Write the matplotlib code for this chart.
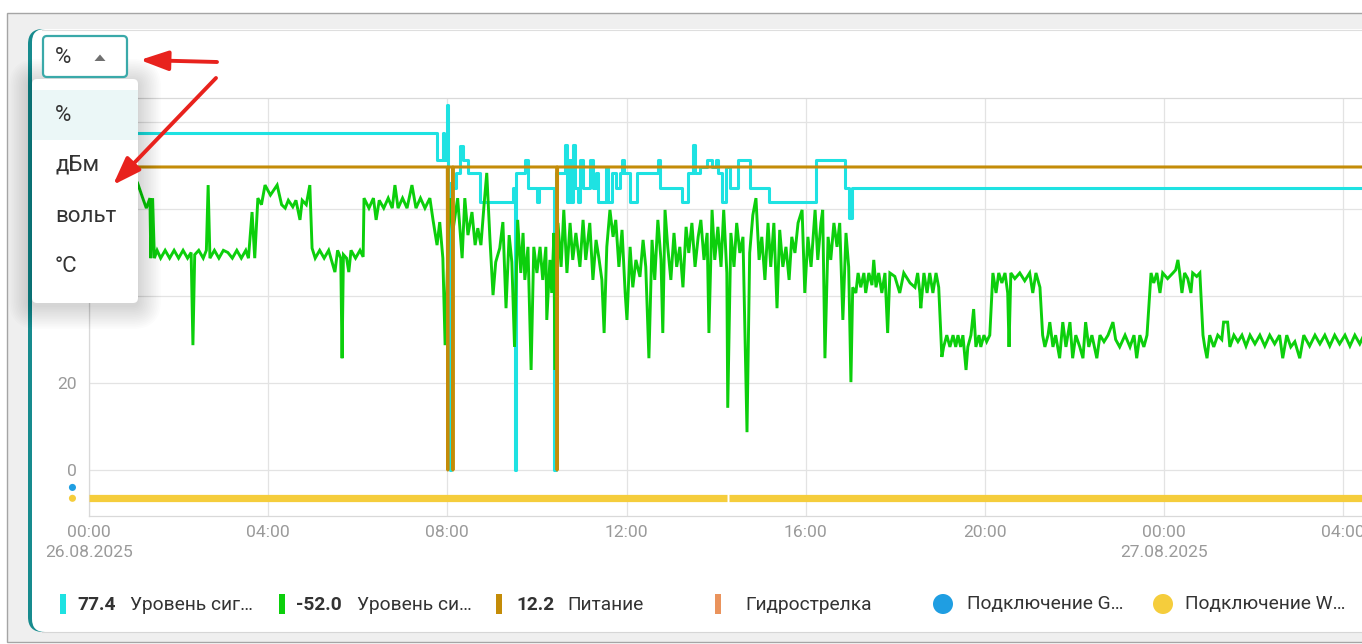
import matplotlib
matplotlib.use("Agg")
import matplotlib.pyplot as plt
from matplotlib.patches import FancyBboxPatch, Rectangle, Circle, Polygon
from matplotlib.transforms import blended_transform_factory

plt.rcParams['font.family'] = ['Roboto', 'DejaVu Sans']

# ---------------------------------------------------------------- data
# time axis: hours since 26.08.2025 00:00

# signal level, % (step series)
signal_pct_t = [0.00, 7.77, 7.90, 7.93, 7.99, 8.02, 8.05, 8.08, 8.19, 8.28, 8.35, 8.46, 8.73,
                9.46, 9.50, 9.53, 9.73, 9.80, 10.00, 10.04, 10.38, 10.42, 10.63, 10.67,
                10.71, 10.76, 10.80, 10.85, 10.92, 10.96, 11.03, 11.18, 11.25, 11.32,
                11.36, 11.54, 11.58, 11.67, 11.76, 11.85, 11.90, 11.94, 12.08, 12.23,
                12.70, 12.75, 13.24, 13.37, 13.48, 13.53, 13.64, 13.79, 13.91, 14.00,
                14.04, 14.13, 14.22, 14.31, 14.49, 14.75, 15.18, 16.23, 16.88, 16.96,
                17.03, 28.46]
signal_pct_v = [77.4, 71.3, 77.4, 71.3, 84.0, 66.0, 0.0, 64.8, 68.3, 74.5, 71.3, 68.3, 61.6,
                64.8, 0.0, 68.3, 71.3, 64.8, 61.6, 64.8, 0.0, 68.3, 74.7, 61.6,
                71.3, 61.6, 74.7, 64.8, 61.6, 71.3, 64.8, 71.3, 64.8, 68.3,
                61.6, 69.7, 61.6, 68.3, 64.8, 68.3, 71.3, 68.3, 61.6, 68.3,
                71.3, 64.8, 61.6, 68.3, 74.7, 68.3, 69.7, 71.3, 69.7, 71.3,
                68.3, 61.6, 69.7, 64.8, 71.3, 64.8, 61.6, 71.3, 64.8, 58.0,
                64.8, 64.8]

# signal level, dBm channel (drawn on the shared scale)
signal_dbm_now = -52.0
signal_dbm_t = [
    0.00, 0.25, 0.50, 0.75, 1.00, 1.10, 1.20, 1.28, 1.36, 1.38, 1.42, 1.46, 1.52, 1.60,
    1.70, 1.80, 1.90, 2.00, 2.10, 2.20, 2.28, 2.32, 2.36, 2.45, 2.55, 2.62, 2.66, 2.70,
    2.80, 2.90, 3.00, 3.10, 3.20, 3.30, 3.40, 3.50, 3.56, 3.64, 3.70, 3.77, 3.85, 3.93,
    4.05, 4.20, 4.30, 4.38, 4.45, 4.55, 4.62, 4.71, 4.76, 4.85, 4.93, 4.98, 5.05, 5.15,
    5.25, 5.35, 5.49, 5.55, 5.62, 5.65, 5.68, 5.75, 5.80, 5.85, 5.95, 6.05, 6.12, 6.14,
    6.25, 6.35, 6.41, 6.48, 6.58, 6.68, 6.77, 6.83, 6.90, 7.00, 7.10, 7.21, 7.30, 7.40,
    7.50, 7.61, 7.68, 7.77, 7.83, 7.90, 7.95, 8.05, 8.12, 8.23, 8.33, 8.39, 8.46, 8.55,
    8.62, 8.68, 8.75, 8.82, 8.88, 8.95, 9.02, 9.08, 9.17, 9.24, 9.31, 9.38, 9.44, 9.50,
    9.57, 9.64, 9.69, 9.73, 9.80, 9.87, 9.93, 10.00, 10.07, 10.13, 10.20, 10.22, 10.29,
    10.33, 10.38, 10.40, 10.47, 10.54, 10.60, 10.67, 10.74, 10.80, 10.87, 10.96, 11.03,
    11.09, 11.18, 11.25, 11.32, 11.38, 11.45, 11.50, 11.56, 11.63, 11.70, 11.76, 11.83,
    11.90, 11.97, 12.01, 12.08, 12.14, 12.21, 12.30, 12.37, 12.43, 12.50, 12.57, 12.63,
    12.70, 12.77, 12.81, 12.86, 12.92, 12.99, 13.06, 13.12, 13.19, 13.26, 13.33, 13.39,
    13.46, 13.53, 13.60, 13.66, 13.73, 13.80, 13.84, 13.91, 13.97, 14.04, 14.11, 14.17,
    14.24, 14.26, 14.33, 14.40, 14.46, 14.53, 14.60, 14.69, 14.75, 14.82, 14.89, 14.96,
    15.02, 15.09, 15.16, 15.22, 15.29, 15.36, 15.42, 15.49, 15.56, 15.63, 15.69, 15.76,
    15.83, 15.92, 15.98, 16.05, 16.12, 16.21, 16.27, 16.34, 16.38, 16.43, 16.50, 16.56,
    16.63, 16.70, 16.76, 16.83, 16.90, 16.96, 17.01, 17.05, 17.12, 17.17, 17.23, 17.30,
    17.34, 17.41, 17.48, 17.52, 17.57, 17.63, 17.70, 17.77, 17.83, 17.88, 17.99, 18.10,
    18.19, 18.33, 18.44, 18.50, 18.55, 18.57, 18.64, 18.71, 18.77, 18.84, 18.91, 18.97,
    19.04, 19.08, 19.15, 19.22, 19.29, 19.35, 19.40, 19.46, 19.51, 19.58, 19.62, 19.69,
    19.75, 19.80, 19.87, 19.91, 19.98, 20.04, 20.11, 20.18, 20.25, 20.31, 20.38, 20.45,
    20.51, 20.54, 20.58, 20.67, 20.78, 20.89, 21.00, 21.07, 21.14, 21.23, 21.29, 21.34,
    21.41, 21.45, 21.52, 21.58, 21.67, 21.74, 21.81, 21.90, 21.96, 22.03, 22.12, 22.19,
    22.25, 22.32, 22.39, 22.50, 22.57, 22.66, 22.75, 22.86, 22.92, 23.01, 23.13, 23.24,
    23.33, 23.39, 23.46, 23.55, 23.62, 23.71, 23.77, 23.84, 23.91, 23.97, 24.08, 24.20,
    24.26, 24.31, 24.35, 24.40, 24.46, 24.53, 24.60, 24.64, 24.73, 24.80, 24.87, 24.91,
    24.96, 25.02, 25.11, 25.20, 25.29, 25.33, 25.42, 25.47, 25.56, 25.65, 25.74, 25.83,
    25.92, 26.03, 26.14, 26.25, 26.36, 26.47, 26.58, 26.65, 26.74, 26.83, 26.92, 27.03,
    27.12, 27.25, 27.37, 27.48, 27.59, 27.70, 27.81, 27.92, 28.04, 28.15, 28.26, 28.37,
    28.46]
signal_dbm_v = [
    62.0, 64.0, 62.5, 65.0, 63.0, 65.5, 62.5, 60.2, 62.5, 48.7, 62.5, 48.7, 50.5, 48.7,
    50.5, 48.7, 50.5, 48.7, 50.5, 48.7, 50.0, 28.7, 49.5, 50.5, 48.7, 50.5, 65.5, 48.7,
    50.5, 48.7, 50.5, 50.0, 48.7, 50.5, 48.7, 50.5, 48.7, 59.3, 48.7, 62.5, 61.0, 65.5,
    63.2, 65.5, 61.0, 60.2, 62.0, 60.5, 62.0, 57.5, 62.0, 61.0, 65.5, 51.0, 48.7, 50.5,
    48.7, 50.5, 45.5, 50.5, 48.7, 25.7, 49.5, 48.7, 45.5, 50.5, 48.7, 50.5, 49.0, 62.5,
    60.2, 62.5, 57.5, 62.0, 60.2, 62.5, 60.2, 65.5, 60.2, 62.5, 60.2, 65.5, 60.2, 62.5,
    60.2, 62.5, 57.5, 51.7, 57.0, 48.7, 28.7, 62.5, 54.7, 62.5, 48.7, 62.5, 54.0, 59.3,
    51.7, 55.6, 51.7, 61.0, 68.3, 53.3, 40.2, 47.8, 51.0, 57.0, 37.2, 54.0, 47.8, 28.3,
    57.5, 45.3, 54.5, 43.7, 51.3, 23.0, 51.3, 45.3, 51.3, 43.7, 51.3, 34.5, 48.3,
    40.7, 54.5, 23.0, 56.8, 46.7, 59.8, 45.3, 56.8, 48.3, 54.5, 46.7, 57.5,
    48.3, 56.8, 43.7, 52.9, 49.0, 43.7, 31.5, 51.3, 59.8, 53.6, 57.5, 46.7,
    55.2, 40.7, 34.5, 51.3, 42.0, 48.3, 44.4, 52.9, 46.7, 25.7, 52.9, 43.7,
    57.5, 48.3, 31.5, 59.8, 51.3, 43.7, 54.5, 46.7, 51.3, 42.0, 55.9, 49.9,
    56.8, 46.7, 53.6, 57.5, 48.3, 54.5, 31.5, 59.8, 48.3, 55.9, 46.7, 59.8,
    45.3, 14.3, 54.5, 46.7, 56.8, 49.9, 53.6, 8.7, 49.9, 58.6, 62.5, 48.3,
    53.6, 43.7, 56.8, 46.7, 56.8, 37.2, 55.2, 46.7, 51.3, 43.7, 53.6, 49.9,
    56.8, 59.8, 40.7, 53.6, 46.7, 59.8, 48.3, 56.8, 59.8, 25.7, 53.6, 48.3,
    56.8, 51.3, 56.8, 34.5, 54.5, 46.7, 20.2, 42.0, 40.7, 45.3, 42.0, 45.3,
    40.7, 45.3, 42.5, 48.3, 42.0, 45.3, 40.7, 45.3, 31.5, 45.3, 44.5, 40.7,
    45.3, 43.0, 42.0, 45.3, 40.7, 37.2, 45.3, 40.7, 45.3, 40.7, 45.3, 42.0,
    26.0, 28.3, 31.0, 28.3, 31.0, 28.3, 31.0, 28.3, 31.0, 23.0, 28.3, 31.0,
    37.0, 28.3, 31.0, 28.3, 31.0, 29.5, 31.0, 45.3, 40.7, 45.3, 43.0, 45.3,
    40.7, 28.3, 45.3, 44.0, 45.3, 43.5, 45.3, 40.7, 45.3, 42.0, 31.0, 28.3,
    31.0, 34.0, 28.3, 31.0, 25.7, 34.0, 28.3, 34.0, 25.7, 31.0, 28.3, 25.7,
    34.0, 28.3, 31.0, 25.7, 31.0, 29.5, 31.0, 34.0, 30.0, 28.3, 31.0, 28.3,
    31.0, 25.7, 31.0, 28.3, 31.0, 45.3, 43.0, 45.3, 40.7, 45.3, 44.0, 45.3,
    46.0, 48.3, 45.3, 40.7, 45.3, 44.0, 40.7, 45.3, 44.5, 45.3, 31.0, 28.3,
    25.7, 31.0, 28.3, 31.0, 30.0, 34.0, 34.0, 28.3, 31.0, 29.5, 31.0, 28.5,
    31.0, 29.0, 31.0, 28.5, 31.0, 29.0, 31.0, 25.7, 31.0, 28.3, 29.5, 25.7,
    31.0, 28.5, 31.0, 29.0, 31.0, 28.5, 31.0, 29.0, 31.0, 28.5, 31.0, 29.0,
    31.0]

# supply voltage, V
power_t = [0.00, 8.00, 8.01, 8.02, 8.115, 8.125, 8.135, 10.44, 10.45, 10.46, 28.46]
power_v = [12.2, 12.2, 0.0, 12.2, 12.2, 0.0, 12.2, 12.2, 0.0, 12.2, 12.2]

# connection states (on-intervals, hours)
wifi_on = [(0.00, 14.25), (14.28, 28.46)]
gsm_on = []

x_tick_hours = [0, 4, 8, 12, 16, 20, 24, 28]
x_tick_labels = ["00:00\n26.08.2025", "04:00", "08:00", "12:00", "16:00", "20:00",
                 "00:00\n27.08.2025", "04:00"]
y_ticks = [0, 20, 40, 60, 80]

unit_options = ["%", "дБм", "вольт", "°C"]
selected_unit = "%"

legend_names = ["Уровень сиг…", "Уровень си…", "Питание", "Гидрострелка",
                "Подключение G…", "Подключение W…"]
legend_values = [f"{signal_pct_v[0]:.1f}", f"{signal_dbm_now:.1f}", f"{power_v[0]:.1f}",
                 "", "", ""]

# ---------------------------------------------------------------- style
C_CYAN = "#1ee2e2"
C_GREEN = "#0ccf0c"
C_BROWN = "#c48c08"
C_ORANGE = "#ea935c"
C_BLUE = "#1f9ee2"
C_YELLOW = "#f5cd3c"
C_TEAL = "#178b8e"
C_TEAL_LIGHT = "#3aa9a9"
C_GRID = "#e3e3e3"
C_TICK = "#9a9a9a"
C_TEXT = "#333333"
C_RED = "#e8221d"

W, H = 1362, 644
fig = plt.figure(figsize=(W / 100, H / 100), dpi=100, facecolor="white")

# page / card background, pixel coordinates
bg = fig.add_axes([0, 0, 1, 1], zorder=-10)
bg.set_xlim(0, W)
bg.set_ylim(H, 0)
bg.axis("off")
bg.add_patch(Rectangle((7, 13), 1400, 629, fc="#efefef", ec="#a5a5a5", lw=1))
bg.add_patch(FancyBboxPatch((28, 29), 1400, 603, boxstyle="round,pad=0,rounding_size=15",
                            fc=C_TEAL, ec="none"))
bg.add_patch(FancyBboxPatch((32, 29), 1400, 603, boxstyle="round,pad=0,rounding_size=13",
                            fc="white", ec="none"))
bg.plot([42, W], [29.5, 29.5], color="#dedede", lw=0.8)
bg.plot([42, W], [631.5, 631.5], color="#d6d6d6", lw=0.8)

# ---------------------------------------------------------------- chart
X0, X1, Y0, Y1 = 89, W, 98, 516
ax = fig.add_axes([X0 / W, (H - Y1) / H, (X1 - X0) / W, (Y1 - Y0) / H], zorder=1)
ax.set_facecolor("none")
YLIM = (-10.57, 85.52)
XLIM = (0, 28.42)
ax.set_xlim(*XLIM)
ax.set_ylim(*YLIM)

ax.set_xticks(x_tick_hours)
ax.set_xticklabels(x_tick_labels)
ax.set_yticks(y_ticks)
ax.set_yticklabels([str(v) for v in y_ticks])
ax.tick_params(axis="both", length=0, colors=C_TICK, labelsize=12.6)
ax.tick_params(axis="x", pad=6.5)
ax.tick_params(axis="y", pad=8.5)
for lbl in ax.get_xticklabels():
    lbl.set_linespacing(1.45)
ax.grid(True, color=C_GRID, lw=0.9)
ax.set_axisbelow(True)
for side in ("left", "bottom", "top"):
    ax.spines[side].set_color("#d9d9d9")
    ax.spines[side].set_linewidth(0.9)
ax.spines["right"].set_visible(False)

ax.step(signal_pct_t, signal_pct_v, where="post", color=C_CYAN, lw=2.2, zorder=3)
ax.plot(signal_dbm_t, signal_dbm_v, color=C_GREEN, lw=2.1, zorder=4,
        solid_joinstyle="miter")

# connection state lanes below zero
LANE_WIFI, LANE_GSM = -6.5, -4.0
for a, b in wifi_on:
    ax.plot([a, b], [LANE_WIFI, LANE_WIFI], color=C_YELLOW, lw=5.2,
            solid_capstyle="butt", zorder=3)
for a, b in gsm_on:
    ax.plot([a, b], [LANE_GSM, LANE_GSM], color=C_BLUE, lw=5.2,
            solid_capstyle="butt", zorder=3)
lane_tr = blended_transform_factory(ax.transAxes, ax.transData)
ax.scatter([-0.013, -0.013], [LANE_GSM, LANE_WIFI], s=26, c=[C_BLUE, C_YELLOW],
           transform=lane_tr, clip_on=False, zorder=5, linewidths=0)

# voltage on its own (hidden) scale
ax_v = ax.twinx()
ax_v.set_zorder(2)
ax_v.set_ylim(YLIM[0] * 12.2 / 69.66, YLIM[1] * 12.2 / 69.66)
ax_v.plot(power_t, power_v, color=C_BROWN, lw=2.2)
ax_v.set_xlim(*XLIM)
ax_v.axis("off")

# ---------------------------------------------------------------- overlay
fg = fig.add_axes([0, 0, 1, 1], zorder=10)
fg.set_xlim(0, W)
fg.set_ylim(H, 0)
fg.axis("off")

# legend
slot_marker_x = [63, 282, 499, 718, 943, 1163]
slot_value_x = [77, 296, 516, None, None, None]
slot_name_x = [130, 357, 567, 745, 967, 1185]
legend_colors = [C_CYAN, C_GREEN, C_BROWN, C_ORANGE, C_BLUE, C_YELLOW]
legend_kinds = ["bar", "bar", "bar", "bar", "dot", "dot"]
LY = 604
for mx, vx, nx, col, kind, val, name in zip(slot_marker_x, slot_value_x, slot_name_x,
                                            legend_colors, legend_kinds, legend_values,
                                            legend_names):
    if kind == "bar":
        fg.add_patch(Rectangle((mx - 3, LY - 10), 6, 20, fc=col, ec="none"))
    else:
        fg.add_patch(Circle((mx, LY), 10, fc=col, ec="none"))
    if val:
        fg.text(vx, LY + 0.5, val, fontsize=13.8, fontweight="bold", color=C_TEXT,
                va="center", ha="left")
    fg.text(nx, LY + 0.5, name, fontsize=13.8, color=C_TEXT, va="center", ha="left")

# dropdown menu: shadow, panel, options
menu_box = (32, 79, 106, 224)
for k in range(14):
    g = 1 + k * 1.7
    fg.add_patch(FancyBboxPatch((menu_box[0] - g, menu_box[1] + 3 - g),
                                menu_box[2] + 2 * g, menu_box[3] + 2 * g,
                                boxstyle=f"round,pad=0,rounding_size={6 + g}",
                                fc="black", ec="none", alpha=0.013))
fg.add_patch(FancyBboxPatch(menu_box[:2], *menu_box[2:],
                            boxstyle="round,pad=0,rounding_size=5", fc="white", ec="none"))
fg.add_patch(Rectangle((32, 90), 106, 50, fc="#ebf7f7", ec="none"))
item_y = [115, 165, 216, 266]
for yy, opt in zip(item_y, unit_options):
    fg.text(55, yy, opt, fontsize=16, color=C_TEXT, va="center", ha="left")

# menu panel covers the upper value labels of the y axis
for lbl, val in zip(ax.get_yticklabels(), y_ticks):
    tx, ty = fig.transFigure.inverted().transform(
        ax.transData.transform((0, val)))
    if (H - ty * H) < menu_box[1] + menu_box[3]:
        lbl.set_visible(False)

# select box
fg.add_patch(FancyBboxPatch((43, 36), 84, 41, boxstyle="round,pad=0,rounding_size=4",
                            fc="white", ec=C_TEAL_LIGHT, lw=1.6))
fg.text(55, 57, selected_unit, fontsize=16, color=C_TEXT, va="center", ha="left")
fg.add_patch(Polygon([(94.5, 61), (105.5, 61), (100, 54.5)], closed=True,
                     fc="#707070", ec="none"))

# red pointers
arrow_style = "-|>,head_length=0.85,head_width=0.3"
fg.annotate("", xy=(140, 60), xytext=(217, 62),
            arrowprops=dict(arrowstyle=arrow_style, color=C_RED, lw=2.8,
                            mutation_scale=20, shrinkA=0, shrinkB=0))
fg.annotate("", xy=(113, 185), xytext=(216, 78),
            arrowprops=dict(arrowstyle=arrow_style, color=C_RED, lw=2.8,
                            mutation_scale=20, shrinkA=0, shrinkB=0))

fig.savefig("out.png", dpi=100, facecolor="white")
